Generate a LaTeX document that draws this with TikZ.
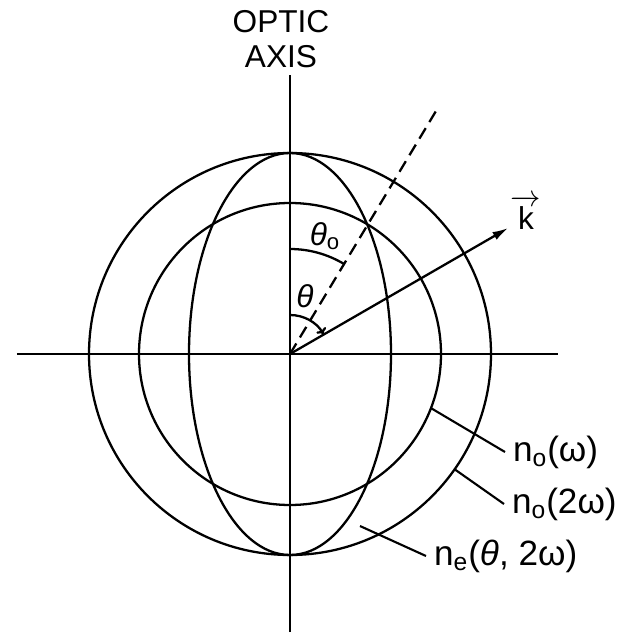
\documentclass[tikz,border=0pt]{standalone}
\usepackage{amsmath}
\usepackage{fontspec}
\setmainfont{Liberation Sans}
\usetikzlibrary{arrows.meta,positioning}

\begin{document}
\begin{tikzpicture}[
    x=0.02cm, y=0.02cm,
    line width=1.3pt,
    every node/.style={font=\fontsize{18}{20}\selectfont, inner sep=1pt},
    leader/.style={line width=1.2pt},
    lbl/.style={anchor=west, inner xsep=4pt, font=\fontsize{20}{22}\selectfont},
    pmdir/.style={dash pattern=on 7pt off 4pt},
]
\useasboundingbox (-290,-282) rectangle (333,354);
\coordinate (O) at (0,0);
% Axes.
\coordinate (xl) at (-273,0);
\coordinate (xr) at (268,0);
\coordinate (zt) at (0,279);
\coordinate (zb) at (0,-278);
\draw (xl) -- (xr);
\draw (zb) -- (zt);
\node[align=center] (axis) at (-9,315) {OPTIC\\AXIS};
% Index surfaces.
\draw (O) circle[radius=201];
\draw (O) circle[radius=151];
\draw (O) ellipse[x radius=101, y radius=201];
% Phase matching direction and the k vector.
\coordinate (pm) at (59:285);
\coordinate (ktip) at (30:252);
\draw[pmdir] (O) -- (pm);
\draw[-{Latex[length=9pt,width=5pt]}] (O) -- (ktip);
\node (k) at (236,142) {$\overrightarrow{\mbox{k}}$};
% Angles.
\draw (0,105) arc[start angle=90, end angle=59, radius=105];
\draw[-{To[length=3pt]}] (0,39) arc[start angle=90, end angle=31, radius=39];
\node (th0) at (35,118) {\textit{θ}\textsubscript{o}};
\node (th) at (15,58) {\textit{θ}};
% Curve labels.
\node[lbl] (no1) at (215,-98) {n\textsubscript{o}(ω)};
\node[lbl] (no2) at (214,-150) {n\textsubscript{o}(2ω)};
\node[lbl] (ne) at (136,-202) {n\textsubscript{e}(\textit{θ}, 2ω)};
\coordinate (a1) at (-21:151);
\coordinate (a2) at (-35:201);
\coordinate (a3) at (70,-172);
\draw[leader] (a1) -- (no1.west);
\draw[leader] (a2) -- (no2.west);
\draw[leader] (a3) -- (ne.west);
\end{tikzpicture}
\end{document}
